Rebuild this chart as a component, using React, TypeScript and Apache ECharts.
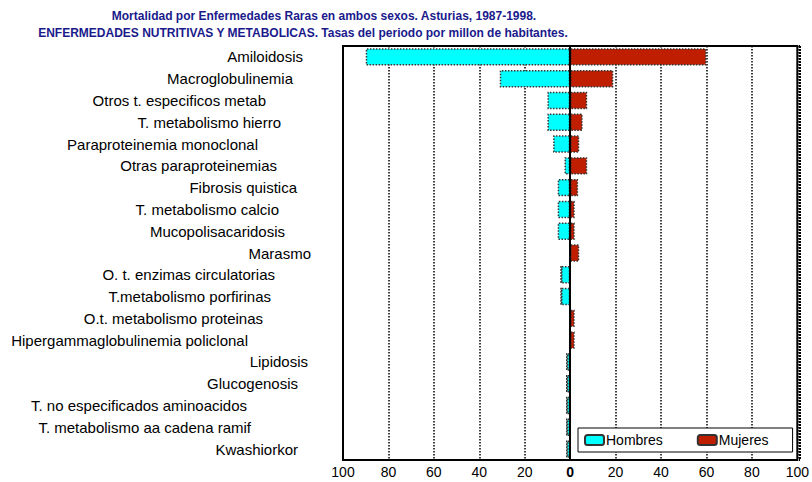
import React, { useEffect, useRef } from "react";
import * as echarts from "echarts";

const categories = [
  "Amiloidosis",
  "Macroglobulinemia",
  "Otros t. especificos metab",
  "T. metabolismo hierro",
  "Paraproteinemia monoclonal",
  "Otras paraproteinemias",
  "Fibrosis quistica",
  "T. metabolismo calcio",
  "Mucopolisacaridosis",
  "Marasmo",
  "O. t. enzimas circulatorias",
  "T.metabolismo porfirinas",
  "O.t. metabolismo proteinas",
  "Hipergammaglobulinemia policlonal",
  "Lipidosis",
  "Glucogenosis",
  "T. no especificados aminoacidos",
  "T. metabolismo aa cadena ramif",
  "Kwashiorkor",
];

const hombres = [90, 31, 10, 10, 7.5, 2.5, 5.5, 5.5, 5.5, 0, 4, 4, 0, 0, 1.5, 1.5, 1.5, 1.5, 1.5];
const mujeres = [60, 19, 7.5, 5.5, 4, 7.5, 3.5, 2, 2, 4, 0, 0, 2, 2, 0, 0, 0, 0, 0];

const titleLine1 = "Mortalidad por Enfermedades Raras en ambos sexos. Asturias, 1987-1998.";
const titleLine2 =
  "ENFERMEDADES NUTRITIVAS Y METABOLICAS. Tasas del periodo por millon de habitantes.";

// style: right-side padding of each category label (px), to mimic the original staggered labels
const labelPadRight = [40, 50, 77, 62, 85, 66, 46, 64, 58, 32, 68, 72, 80, 95, 35, 45, 96, 92, 45];

const FONT = "'Liberation Sans', Arial, sans-serif";

const W = 812;
const H = 482;
const GRID = { left: 343, right: 12, top: 46, bottom: 22 };

export default function App() {
  const ref = useRef<HTMLDivElement>(null);

  useEffect(() => {
    if (!ref.current) return;
    const chart = echarts.init(ref.current, undefined, { renderer: "svg" });

    const rich: Record<string, any> = {};
    categories.forEach((_, i) => {
      rich["p" + i] = {
        padding: [0, labelPadRight[i], 0, 0],
        fontSize: 15,
        fontFamily: FONT,
        color: "#000",
      };
    });

    const dashed = () => ({ color: "#000", width: 1.5, type: "dotted" as const });
    const barBorder = () => ({ borderColor: "#333", borderWidth: 1.5, borderType: "dotted" as const });
    const titleStyle = () => ({
      color: "#1a1a8c",
      fontSize: 12,
      fontWeight: "bold" as const,
      fontFamily: FONT,
    });

    const x0 = GRID.left;
    const x1 = W - GRID.right;
    const y0 = GRID.top;
    const y1 = H - GRID.bottom;
    const frameStyle = { stroke: "#000", lineWidth: 2, lineDash: [2, 1] };
    const frameLine = (a: number, b: number, c: number, d: number) => ({
      type: "line",
      z: 15,
      silent: true,
      shape: { x1: a, y1: b, x2: c, y2: d },
      style: { ...frameStyle },
    });

    chart.setOption({
      animation: false,
      backgroundColor: "#fff",
      textStyle: { fontFamily: FONT },
      title: [
        { text: titleLine1, left: 324, top: 10, padding: 0, textAlign: "center", textStyle: titleStyle() },
        { text: titleLine2, left: 303, top: 27, padding: 0, textAlign: "center", textStyle: titleStyle() },
      ],
      legend: {
        data: ["Hombres", "Mujeres"],
        left: 578,
        top: 428,
        orient: "horizontal",
        itemWidth: 19,
        itemHeight: 10,
        itemGap: 34,
        padding: [5, 24, 5, 6],
        backgroundColor: "#fff",
        borderColor: "#000",
        borderWidth: 1,
        z: 20,
        textStyle: { fontSize: 14, fontFamily: FONT, color: "#000", padding: [0, 0, 0, -3] },
      },
      grid: { ...GRID, show: true, borderColor: "#000", borderWidth: 2 },
      graphic: [
        frameLine(x0, y0, x1, y0),
        frameLine(x0, y1, x1, y1),
        frameLine(x0, y0, x0, y1),
        frameLine(x1, y0, x1, y1),
      ],
      xAxis: {
        type: "value",
        min: -100,
        max: 100,
        interval: 20,
        axisLine: { show: true, onZero: false, lineStyle: dashed() },
        axisTick: { show: false },
        splitLine: { show: true, lineStyle: dashed() },
        axisLabel: {
          margin: 5,
          color: "#000",
          fontSize: 14,
          fontFamily: FONT,
          formatter: (v: number) => (v === 0 ? "{b|0}" : String(Math.abs(v))),
          rich: { b: { fontWeight: "bold", fontSize: 14, fontFamily: FONT, color: "#000" } },
        },
      },
      yAxis: {
        type: "category",
        data: categories,
        inverse: true,
        axisTick: { show: false },
        axisLine: { show: true, onZero: true, lineStyle: { color: "#000", width: 2 } },
        axisLabel: {
          margin: 0,
          formatter: (v: string, i: number) => `{p${i}|${v}}`,
          rich,
        },
        z: 10,
      },
      series: [
        {
          name: "Hombres",
          type: "bar",
          stack: "total",
          barCategoryGap: "20%",
          data: hombres.map((v) => -v),
          itemStyle: { color: "#00ffff", ...barBorder() },
        },
        {
          name: "Mujeres",
          type: "bar",
          stack: "total",
          barCategoryGap: "20%",
          data: mujeres,
          itemStyle: { color: "#bf1e00", ...barBorder() },
        },
      ],
    });

    return () => chart.dispose();
  }, []);

  return <div ref={ref} style={{ position: "fixed", left: 0, top: 0, width: W, height: H }} />;
}
